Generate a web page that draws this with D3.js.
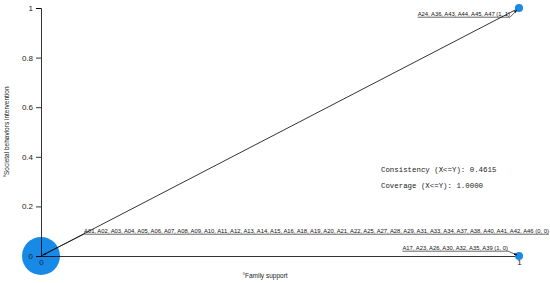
<!DOCTYPE html>
<html>
<head>
<meta charset="utf-8">
<script src="https://cdn.jsdelivr.net/npm/d3@7"></script>
<style>
  body { margin: 0; background: #fff; }
  text { font-family: "Liberation Sans", Arial, sans-serif; }
  text.stat { font-family: "Liberation Mono", "DejaVu Sans Mono", monospace; }
</style>
</head>
<body>
<svg id="chart" width="550" height="283"></svg>
<script>
// data
let yTicks = [0, 0.2, 0.4, 0.6, 0.8, 1];
let xTicks = [0, 1];
let pointX = [0, 1, 1];
let pointY = [0, 1, 0];
let pointCount = [34, 6, 7];
let pointLabels = [
    'A01, A02, A03, A04, A05, A06, A07, A08, A09, A10, A11, A12, A13, A14, A15, A16, A18, A19, A20, A21, A22, A25, A27, A28, A29, A31, A33, A34, A37, A38, A40, A41, A42, A46 (0, 0)',
    'A24, A36, A43, A44, A45, A47 (1, 1)',
    'A17, A23, A26, A30, A32, A35, A39 (1, 0)'
];
let statLabels = ['Consistency (X<=Y): 0.4615', 'Coverage (X<=Y): 1.0000'];

let svg = d3.select('#chart');
let x = d3.scaleLinear().domain([0, 1]).range([41, 519]);
let y = d3.scaleLinear().domain([0, 1]).range([256, 8]);
let blue = '#168ae6';

// arrow marker
svg.append('defs').append('marker')
    .attr('id', 'arr')
    .attr('viewBox', '0 0 10 10')
    .attr('refX', 10).attr('refY', 5)
    .attr('markerWidth', 5).attr('markerHeight', 5)
    .attr('orient', 'auto')
    .append('path').attr('d', 'M0,1 L10,5 L0,9 Z').attr('fill', '#000');

// big bubble at origin goes behind axes
let r = d3.scaleSqrt().domain([0, 34]).range([0, 19]);
svg.append('circle')
    .attr('cx', x(pointX[0])).attr('cy', y(pointY[0]))
    .attr('r', r(pointCount[0]))
    .attr('fill', blue);

// y axis
let yAxis = d3.axisLeft(y).tickValues(yTicks).tickSize(5).tickPadding(3)
    .tickFormat(d => d === 0 ? '0' : d === 1 ? '1' : d3.format('.1f')(d));
let gy = svg.append('g').attr('transform', `translate(${x(0)},0)`).call(yAxis);
gy.select('.domain').attr('stroke', '#000').attr('stroke-width', 0.8);
gy.selectAll('.tick line').attr('stroke-width', 0.8);
gy.selectAll('.tick text').attr('font-size', 8).attr('fill', '#222');

// x axis (line only, labels under points)
let gx = svg.append('g').attr('transform', `translate(0,${y(0)})`)
    .call(d3.axisBottom(x).tickValues(xTicks).tickSize(0).tickPadding(3).tickFormat(d3.format('d')));
gx.select('.domain').attr('stroke', '#000').attr('stroke-width', 0.8);
gx.selectAll('.tick text').attr('font-size', 8).attr('fill', '#222');

// diagonal
svg.append('line')
    .attr('x1', x(0)).attr('y1', y(0))
    .attr('x2', x(1)).attr('y2', y(1))
    .attr('stroke', '#000').attr('stroke-width', 0.8);

// small points
for (let i = 1; i < pointX.length; i++) {
    svg.append('circle')
        .attr('cx', x(pointX[i])).attr('cy', y(pointY[i]))
        .attr('r', 4)
        .attr('fill', blue);
}

// point labels, underlined, with leaders
let labelPos = [[84, 233, 'start'], [510, 16, 'end'], [508, 250, 'end']];
pointLabels.forEach((lab, i) => {
    let t = svg.append('text')
        .attr('x', labelPos[i][0]).attr('y', labelPos[i][1])
        .attr('text-anchor', labelPos[i][2])
        .attr('font-size', 5.85)
        .attr('fill', '#111')
        .text(lab);
    let bb = t.node().getBBox();
    let uy = labelPos[i][1] + 1.2;
    svg.append('line')
        .attr('x1', bb.x).attr('x2', bb.x + bb.width)
        .attr('y1', uy).attr('y2', uy)
        .attr('stroke', '#000').attr('stroke-width', 0.6);
    let ex = i === 0 ? bb.x : bb.x + bb.width;
    svg.append('line')
        .attr('x1', ex).attr('y1', uy)
        .attr('x2', x(pointX[i]) + (i === 0 ? 2 : -2))
        .attr('y2', y(pointY[i]) + (i === 1 ? 2 : -1))
        .attr('stroke', '#000').attr('stroke-width', 0.6)
        .attr('marker-end', 'url(#arr)');
});

// consistency / coverage
statLabels.forEach((s, i) => {
    svg.append('text')
        .attr('class', 'stat')
        .attr('x', 381).attr('y', 172 + i * 16)
        .attr('font-size', 7.4)
        .attr('fill', '#222')
        .text(s);
});

// axis titles
svg.append('text')
    .attr('x', 265).attr('y', 278)
    .attr('text-anchor', 'middle')
    .attr('font-size', 6.5).attr('fill', '#222')
    .text('°Family support');
svg.append('text')
    .attr('transform', 'translate(9,132) rotate(-90)')
    .attr('text-anchor', 'middle')
    .attr('font-size', 6.5).attr('fill', '#222')
    .text('°Societal behaviors intervention');
</script>
</body>
</html>
